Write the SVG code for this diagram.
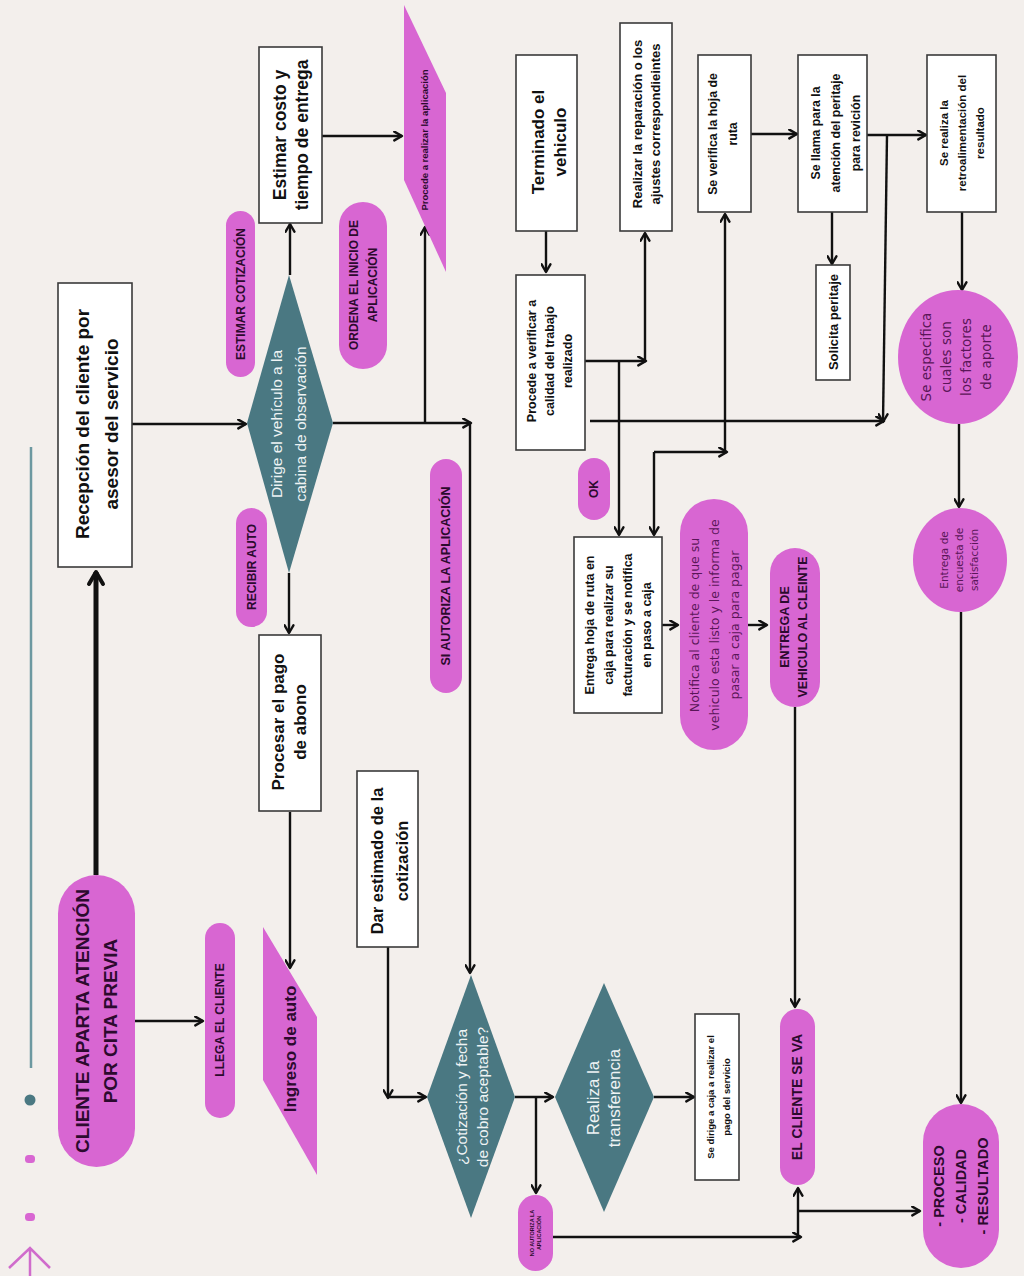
<svg xmlns="http://www.w3.org/2000/svg" width="1024" height="1276" viewBox="0 0 1024 1276">
<defs>
<style>
.bx{fill:#ffffff;stroke:#3a3a3a;stroke-width:1.6}
.pk{fill:#d866d2}
.tl{fill:#4a7882}
.ln{fill:none;stroke:#111;stroke-width:2.4}
.la{fill:none;stroke:#111;stroke-width:2.4;marker-end:url(#ah)}
.tb{font-family:"Liberation Sans",Arial,sans-serif;font-weight:bold;fill:#111;text-anchor:middle}
.tp{font-family:"Liberation Sans",Arial,sans-serif;font-weight:bold;fill:#2c0a2e;text-anchor:middle}
.tw{font-family:"Liberation Sans",Arial,sans-serif;fill:#eef3f4;text-anchor:middle}
.tr{font-family:"DejaVu Sans",Verdana,sans-serif;fill:#5a1658;text-anchor:middle}
</style>
<marker id="ah" viewBox="0 0 10 10" refX="8.5" refY="5" markerWidth="11" markerHeight="11" markerUnits="userSpaceOnUse" orient="auto">
<path d="M1.5,1 L8.5,5 L1.5,9" fill="none" stroke="#111" stroke-width="2.2" stroke-linecap="round" stroke-linejoin="round"/>
</marker>
<marker id="ahb" viewBox="0 0 10 10" refX="8" refY="5" markerWidth="20" markerHeight="20" markerUnits="userSpaceOnUse" orient="auto">
<path d="M2,1.5 L8,5 L2,8.5" fill="none" stroke="#111" stroke-width="2" stroke-linecap="round" stroke-linejoin="round"/>
</marker>
</defs>
<rect width="1024" height="1276" fill="#f3efec"/>

<g id="decor">
<line x1="31" y1="447" x2="31" y2="1068" stroke="#6c98a0" stroke-width="2.5"/>
<circle cx="30" cy="1100" r="5.5" fill="#4a7882"/>
<rect x="25" y="1155" width="10" height="8" rx="3.5" fill="#d866d2"/>
<rect x="25" y="1213" width="10" height="8" rx="3.5" fill="#d866d2"/>
<path d="M9,1268 L30,1248 L50,1268 M30,1249 L30,1276" fill="none" stroke="#d06ccc" stroke-width="2.5"/>
</g>

<g id="connectors">
<line x1="96" y1="875" x2="96" y2="572" fill="none" stroke="#111" stroke-width="5" marker-end="url(#ahb)"/>
<line class="la" x1="135" y1="1021" x2="203" y2="1021"/>
<line class="la" x1="132" y1="424" x2="246" y2="424"/>
<line class="la" x1="290" y1="275" x2="290" y2="224"/>
<line class="la" x1="322" y1="136" x2="402" y2="136"/>
<line class="la" x1="333" y1="423" x2="471" y2="423"/>
<line class="la" x1="470" y1="423" x2="470" y2="973"/>
<line class="la" x1="425" y1="423" x2="425" y2="227"/>
<line class="la" x1="289" y1="573" x2="289" y2="633"/>
<line class="la" x1="290" y1="812" x2="290" y2="968"/>
<line class="la" x1="388" y1="947" x2="388" y2="1098"/>
<line class="la" x1="388" y1="1097" x2="426" y2="1097"/>
<line class="la" x1="515" y1="1097" x2="553" y2="1097"/>
<line class="la" x1="536" y1="1097" x2="536" y2="1193"/>
<line class="la" x1="654" y1="1097" x2="694" y2="1097"/>
<line class="la" x1="553" y1="1237" x2="801" y2="1237"/>
<line class="la" x1="798" y1="1237" x2="798" y2="1188"/>
<line class="la" x1="798" y1="1211" x2="920" y2="1211"/>
<line class="la" x1="795" y1="707" x2="795" y2="1007"/>
<line class="la" x1="961" y1="612" x2="961" y2="1103"/>
<line class="la" x1="959" y1="424" x2="959" y2="507"/>
<line class="la" x1="962" y1="212" x2="962" y2="290"/>
<line class="la" x1="867" y1="135" x2="926" y2="135"/>
<line class="la" x1="887" y1="135" x2="883" y2="422"/>
<line class="la" x1="590" y1="421" x2="884" y2="421"/>
<line class="la" x1="832" y1="212" x2="832" y2="264"/>
<line class="la" x1="751" y1="134" x2="797" y2="134"/>
<line class="la" x1="654" y1="452" x2="654" y2="535"/>
<line class="la" x1="654" y1="452" x2="727" y2="452"/>
<line class="la" x1="725" y1="452" x2="725" y2="214"/>
<line class="la" x1="585" y1="361" x2="646" y2="361"/>
<line class="la" x1="645" y1="361" x2="645" y2="233"/>
<line class="la" x1="619" y1="361" x2="619" y2="535"/>
<line class="la" x1="546" y1="231" x2="546" y2="272"/>
<line class="la" x1="662" y1="625" x2="678" y2="625"/>
<line class="la" x1="748" y1="625" x2="767" y2="625"/>
</g>

<g id="n-recepcion">
<rect class="bx" x="58" y="283" width="74" height="284"/>
<text class="tb" font-size="19" transform="translate(97,424) rotate(-90)"><tspan x="0" y="-7.85">Recepción del cliente por</tspan><tspan x="0" y="21.15">asesor del servicio</tspan></text>
</g>

<g id="n-cliente-aparta">
<rect class="pk" x="58" y="875" width="77" height="292" rx="38.5"/>
<text class="tp" font-size="19" transform="translate(96,1021) rotate(-90)"><tspan x="0" y="-7.35">CLIENTE APARTA ATENCIÓN</tspan><tspan x="0" y="20.65">POR CITA PREVIA</tspan></text>
</g>

<g id="n-llega">
<rect class="pk" x="205" y="923" width="30" height="195" rx="15"/>
<text class="tp" font-size="12" transform="translate(220,1020) rotate(-90)"><tspan x="0" y="4.2">LLEGA EL CLIENTE</tspan></text>
</g>

<g id="n-ingreso">
<polygon class="pk" points="263,927 317,1017 317,1175 263,1080"/>
<text class="tb" font-size="17" transform="translate(290,1049) rotate(-90)" style="fill:#2c0a2e"><tspan x="0" y="6">Ingreso de auto</tspan></text>
</g>

<g id="n-dirige">
<polygon class="tl" points="289,275 333,423 289,573 247,423"/>
<text class="tw" font-size="15.5" transform="translate(289,424) rotate(-90)"><tspan x="0" y="-6.6">Dirige el vehículo a la</tspan><tspan x="0" y="17.4">cabina de observación</tspan></text>
</g>

<g id="n-estimar-cot">
<rect class="pk" x="226" y="211" width="29" height="166" rx="14.5"/>
<text class="tp" font-size="12" transform="translate(240.5,294) rotate(-90)"><tspan x="0" y="4.2">ESTIMAR COTIZACIÓN</tspan></text>
</g>

<g id="n-estimar-costo">
<rect class="bx" x="259" y="47" width="63" height="176"/>
<text class="tb" font-size="17.5" transform="translate(291,135) rotate(-90)"><tspan x="0" y="-4.9">Estimar costo y</tspan><tspan x="0" y="17.1">tiempo de entrega</tspan></text>
</g>

<g id="n-ordena">
<rect class="pk" x="339" y="202" width="48" height="167" rx="24"/>
<text class="tp" font-size="12" transform="translate(363,285) rotate(-90)"><tspan x="0" y="-5.3">ORDENA EL INICIO DE</tspan><tspan x="0" y="13.7">APLICACIÓN</tspan></text>
</g>

<g id="n-procede-aplicacion">
<polygon class="pk" points="404,5 446,93 446,272 404,180"/>
<text class="tp" font-size="9.5" transform="translate(425,140) rotate(-90)"><tspan x="0" y="3.3">Procede a realizar la aplicación</tspan></text>
</g>

<g id="n-recibir">
<rect class="pk" x="236" y="508" width="31" height="119" rx="15.5"/>
<text class="tp" font-size="12" transform="translate(251.5,567) rotate(-90)"><tspan x="0" y="4.2">RECIBIR AUTO</tspan></text>
</g>

<g id="n-procesar">
<rect class="bx" x="259" y="635" width="62" height="176"/>
<text class="tb" font-size="17" transform="translate(289,722) rotate(-90)"><tspan x="0" y="-5">Procesar el pago</tspan><tspan x="0" y="17">de abono</tspan></text>
</g>

<g id="n-si-autoriza">
<rect class="pk" x="430" y="459" width="32" height="234" rx="16"/>
<text class="tp" font-size="12.5" transform="translate(446,576) rotate(-90)"><tspan x="0" y="4.4">SI AUTORIZA LA APLICACIÓN</tspan></text>
</g>

<g id="n-dar-estimado">
<rect class="bx" x="357" y="771" width="61" height="176"/>
<text class="tb" font-size="16.5" transform="translate(390,861) rotate(-90)"><tspan x="0" y="-6.7">Dar estimado de la</tspan><tspan x="0" y="18.3">cotización</tspan></text>
</g>

<g id="n-cotizacion">
<polygon class="tl" points="471,975 515,1097 471,1218 427,1097"/>
<text class="tw" font-size="15.5" transform="translate(472,1097) rotate(-90)"><tspan x="0" y="-5.1">¿Cotización y fecha</tspan><tspan x="0" y="15.9">de cobro aceptable?</tspan></text>
</g>

<g id="n-realiza">
<polygon class="tl" points="604,983 654,1097 604,1212 555,1097"/>
<text class="tw" font-size="17" transform="translate(603,1098) rotate(-90)"><tspan x="0" y="-4.5">Realiza la</tspan><tspan x="0" y="16.5">transferencia</tspan></text>
</g>

<g id="n-se-dirige">
<rect class="bx" x="695" y="1014" width="44" height="166"/>
<text class="tb" font-size="9.5" transform="translate(719,1097) rotate(-90)"><tspan x="0" y="-4.7">Se dirige a caja a realizar el</tspan><tspan x="0" y="11.3">pago del servicio</tspan></text>
</g>

<g id="n-no-autoriza">
<rect class="pk" x="518" y="1195" width="35" height="76" rx="17.5"/>
<text class="tp" font-size="5.5" transform="translate(536,1233) rotate(-90)"><tspan x="0" y="-1.6">NO AUTORIZA LA</tspan><tspan x="0" y="5.4">APLICACIÓN</tspan></text>
</g>

<g id="n-cliente-se-va">
<rect class="pk" x="780" y="1009" width="35" height="176" rx="17.5"/>
<text class="tp" font-size="14" transform="translate(797,1097) rotate(-90)"><tspan x="0" y="4.9">EL CLIENTE SE VA</tspan></text>
</g>

<g id="n-proceso">
<rect class="pk" x="923" y="1104" width="76" height="164" rx="38"/>
<text class="tp" font-size="14.5" transform="translate(961,1186) rotate(-90)"><tspan x="0" y="-16.9">- PROCESO</tspan><tspan x="0" y="5.1">- CALIDAD</tspan><tspan x="0" y="27.1">- RESULTADO</tspan></text>
</g>

<g id="n-terminado">
<rect class="bx" x="516" y="55" width="61" height="176"/>
<text class="tb" font-size="17" transform="translate(549,142) rotate(-90)"><tspan x="0" y="-5">Terminado el</tspan><tspan x="0" y="17">vehiculo</tspan></text>
</g>

<g id="n-procede-verificar">
<rect class="bx" x="516" y="275" width="69" height="175"/>
<text class="tb" font-size="12.5" transform="translate(550,361) rotate(-90)"><tspan x="0" y="-13.6">Procede a verificar a</tspan><tspan x="0" y="4.4">calidad del trabajo</tspan><tspan x="0" y="22.4">realizado</tspan></text>
</g>

<g id="n-realizar-reparacion">
<rect class="bx" x="620" y="23" width="52" height="208"/>
<text class="tb" font-size="13" transform="translate(646,124) rotate(-90)"><tspan x="0" y="-4.45">Realizar la reparación o los</tspan><tspan x="0" y="13.55">ajustes correspondieintes</tspan></text>
</g>

<g id="n-ok">
<rect class="pk" x="578" y="458" width="32" height="62" rx="16"/>
<text class="tp" font-size="12" transform="translate(594,489) rotate(-90)"><tspan x="0" y="4.2">OK</tspan></text>
</g>

<g id="n-entrega-hoja">
<rect class="bx" x="574" y="537" width="88" height="176"/>
<text class="tb" font-size="12.5" transform="translate(618,625) rotate(-90)"><tspan x="0" y="-24.1">Entrega hoja de ruta en</tspan><tspan x="0" y="-5.1">caja para realizar su</tspan><tspan x="0" y="13.9">facturación y se notifica</tspan><tspan x="0" y="32.9">en paso a caja</tspan></text>
</g>

<g id="n-notifica">
<rect class="pk" x="680" y="499" width="68" height="251" rx="34"/>
<text class="tr" font-size="12.5" transform="translate(715,625) rotate(-90)"><tspan x="0" y="-15.6">Notifica al cliente de que su</tspan><tspan x="0" y="4.4">vehiculo esta listo y le informa de</tspan><tspan x="0" y="24.4">pasar a caja para pagar</tspan></text>
</g>

<g id="n-entrega-vehiculo">
<rect class="pk" x="770" y="548" width="50" height="159" rx="25"/>
<text class="tp" font-size="12.5" transform="translate(794,627) rotate(-90)"><tspan x="0" y="-4.6">ENTREGA DE</tspan><tspan x="0" y="13.4">VEHICULO AL CLEINTE</tspan></text>
</g>

<g id="n-se-verifica">
<rect class="bx" x="698" y="55" width="53" height="157"/>
<text class="tb" font-size="12.3" transform="translate(723,134) rotate(-90)"><tspan x="0" y="-5.7">Se verifica la hoja de</tspan><tspan x="0" y="14.3">ruta</tspan></text>
</g>

<g id="n-se-llama">
<rect class="bx" x="798" y="55" width="69" height="157"/>
<text class="tb" font-size="12.3" transform="translate(836,133) rotate(-90)"><tspan x="0" y="-15.7">Se llama para la</tspan><tspan x="0" y="4.3">atención del peritaje</tspan><tspan x="0" y="24.3">para revición</tspan></text>
</g>

<g id="n-solicita">
<rect class="bx" x="816" y="265" width="34" height="115"/>
<text class="tb" font-size="13" transform="translate(833,322) rotate(-90)"><tspan x="0" y="4.5">Solicita peritaje</tspan></text>
</g>

<g id="n-retro">
<rect class="bx" x="927" y="55" width="69" height="157"/>
<text class="tb" font-size="11.5" transform="translate(962,133) rotate(-90)"><tspan x="0" y="-14">Se realiza la</tspan><tspan x="0" y="4">retroalimentación del</tspan><tspan x="0" y="22">resultado</tspan></text>
</g>

<g id="n-especifica">
<ellipse class="pk" cx="958" cy="357" rx="60" ry="67"/>
<text class="tr" font-size="13.5" transform="translate(956,357) rotate(-90)"><tspan x="0" y="-25.3">Se especifica</tspan><tspan x="0" y="-5.3">cuales son</tspan><tspan x="0" y="14.7">los factores</tspan><tspan x="0" y="34.7">de aporte</tspan></text>
</g>

<g id="n-encuesta">
<ellipse class="pk" cx="960" cy="560" rx="47" ry="52"/>
<text class="tr" font-size="10.5" transform="translate(959,560) rotate(-90)"><tspan x="0" y="-11.3">Entrega de</tspan><tspan x="0" y="3.7">encuesta de</tspan><tspan x="0" y="18.7">satisfacción</tspan></text>
</g>
</svg>
